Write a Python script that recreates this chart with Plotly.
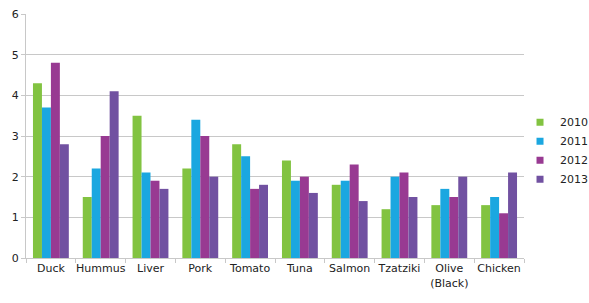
import plotly.graph_objects as go

categories = ["Duck", "Hummus", "Liver", "Pork", "Tomato", "Tuna", "Salmon", "Tzatziki", "Olive<br>(Black)", "Chicken"]
years = ["2010", "2011", "2012", "2013"]
v2010 = [4.3, 1.5, 3.5, 2.2, 2.8, 2.4, 1.8, 1.2, 1.3, 1.3]
v2011 = [3.7, 2.2, 2.1, 3.4, 2.5, 1.9, 1.9, 2.0, 1.7, 1.5]
v2012 = [4.8, 3.0, 1.9, 3.0, 1.7, 2.0, 2.3, 2.1, 1.5, 1.1]
v2013 = [2.8, 4.1, 1.7, 2.0, 1.8, 1.6, 1.4, 1.5, 2.0, 2.1]
colors = ["#82C341", "#1BA7E0", "#983A92", "#7151A1"]

fig = go.Figure()
for name, vals, c in zip(years, [v2010, v2011, v2012, v2013], colors):
    fig.add_trace(go.Bar(x=categories, y=vals, name=name, showlegend=False,
                         marker=dict(color=c, line=dict(width=0))))
for name, c in zip(years, colors):
    fig.add_trace(go.Scatter(x=[None], y=[None], mode="markers", name=name,
                             marker=dict(symbol="square", size=7, color=c)))

fig.update_layout(
    width=589, height=303,
    margin=dict(l=26, r=65, t=14, b=45, autoexpand=False),
    paper_bgcolor="white", plot_bgcolor="white",
    barmode="group", bargap=0.28, bargroupgap=0,
    font=dict(family="DejaVu Sans", size=11, color="#222"),
    legend=dict(x=0.992, xanchor="left", y=0.44, yanchor="middle", font=dict(size=11),
                itemwidth=30, tracegroupgap=0, bgcolor="rgba(0,0,0,0)"),
    showlegend=True,
)
fig.update_yaxes(range=[0, 6], dtick=1, showgrid=True, gridcolor="#c8c8c8", gridwidth=1,
                 showline=True, linecolor="#c8c8c8", ticks="outside", ticklen=4, tickcolor="#c8c8c8",
                 zeroline=False, tickfont=dict(size=11))
fig.update_xaxes(showline=True, linecolor="#c8c8c8", ticks="outside", tickson="boundaries",
                 ticklen=4, tickcolor="#c8c8c8", tickangle=0, tickfont=dict(size=11))
fig.write_html("out.html")
